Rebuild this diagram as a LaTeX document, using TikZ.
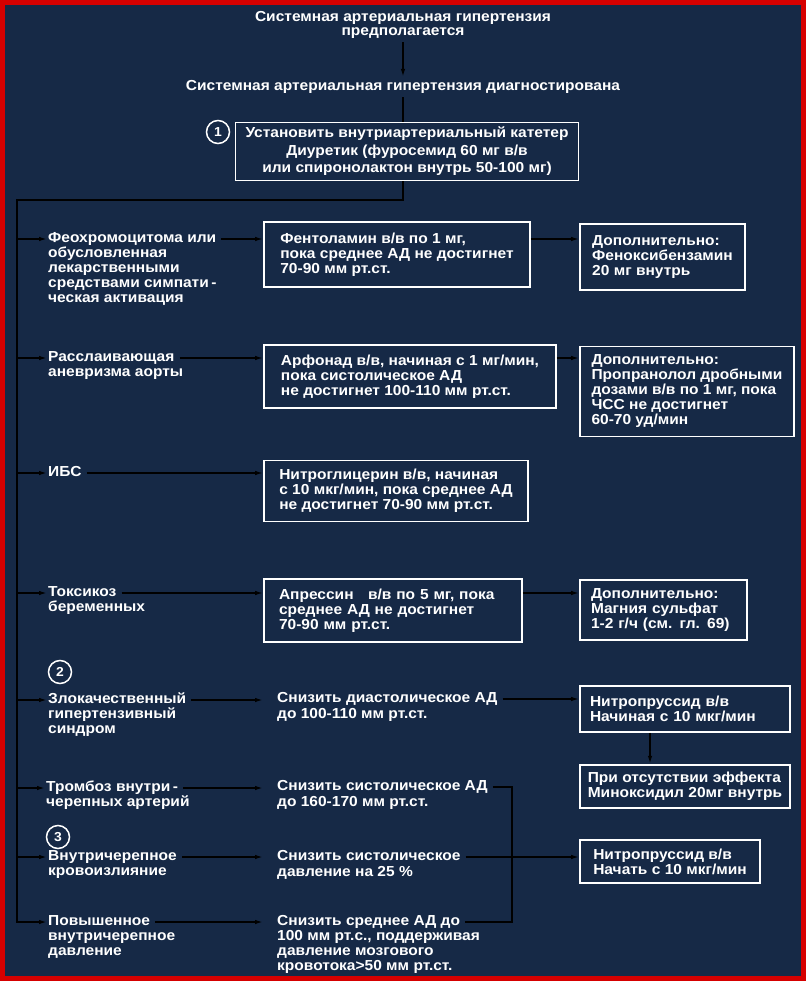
\documentclass[tikz,border=0pt]{standalone}
\usepackage{fontspec}
\setmainfont{Liberation Sans}[FakeStretch=1.07]
\usetikzlibrary{arrows.meta,positioning}
\definecolor{bgnavy}{RGB}{22,41,70}
\definecolor{framered}{RGB}{214,0,0}

\begin{document}
\begin{tikzpicture}[x=1pt, y=-1pt,
    every node/.style={text=white, font=\bfseries\fontsize{14.5}{15}\selectfont},
    box/.style={draw=white, line width=1.7pt, inner xsep=10pt, align=left},
    wbox/.style={box, text width=#1},
    lbl/.style={anchor=west, inner sep=0pt, text height=10.5pt, text depth=3pt},
    more/.style={anchor=base west, inner sep=0pt, align=left},
    arr/.style={line width=1.5pt, -{Latex[length=8pt,width=4.5pt]}},
    num/.style={draw=white, circle, line width=1.5pt, inner sep=0pt, minimum size=23pt, font=\bfseries\fontsize{13}{15}\selectfont}
  ]
    \useasboundingbox (0,0) rectangle (806,981);
    \fill[bgnavy] (0,0) rectangle (806,981);
    \draw[framered, line width=5pt] (2.5,2.5) rectangle (803.5,978.5);

    % top of the scheme
    \node[align=center, font=\bfseries\fontsize{14.5}{14}\selectfont] (susp) at (403,25) {Системная артериальная гипертензия\\предполагается};
    \node (diag) at (403,87) {Системная артериальная гипертензия диагностирована};
    \node[box, align=center, minimum width=342pt, minimum height=58pt, font=\bfseries\fontsize{14.5}{17.5}\selectfont] (cath) at (407,151.5)
      {Установить внутриартериальный катетер\\Диуретик (фуросемид 60 мг в/в\\или спиронолактон внутрь 50-100 мг)};
    \node[num] (n1) at (218,132) {1};
    \coordinate (trk) at (17,200);

    % left column
    \node[lbl] (feo) at (48,239) {Феохромоцитома или};
    \node[more] at ([yshift=-60pt]feo.base west) {обусловленная\\лекарственными\\средствами симпати\,-\\ческая активация};
    \node[lbl] (rassl) at (48,358) {Расслаивающая};
    \node[more] at ([yshift=-15pt]rassl.base west) {аневризма аорты};
    \node[lbl] (ibs) at (48,473) {ИБС};
    \node[lbl] (toks) at (48,593) {Токсикоз};
    \node[more] at ([yshift=-15pt]toks.base west) {беременных};
    \node[num] (n2) at (60,672) {2};
    \node[lbl] (zlok) at (48,700) {Злокачественный};
    \node[more] at ([yshift=-30pt]zlok.base west) {гипертензивный\\синдром};
    \node[lbl] (tromb) at (46,788) {Тромбоз внутри\,-};
    \node[more] at ([yshift=-15pt]tromb.base west) {черепных артерий};
    \node[num] (n3) at (58,837) {3};
    \node[lbl] (hem) at (48,857) {Внутричерепное};
    \node[more] at ([yshift=-15pt]hem.base west) {кровоизлияние};
    \node[lbl] (pov) at (48,922) {Повышенное};
    \node[more] at ([yshift=-30pt]pov.base west) {внутричерепное\\давление};

    % middle column
    \node[box, minimum width=266pt, minimum height=65pt] (fent) at (397,254.5)
      {Фентоламин в/в по 1 мг,\\пока среднее АД не достигнет\\70-90 мм рт.ст.};
    \node[box, minimum width=292pt, minimum height=63pt] (arfo) at (410,376.5)
      {Арфонад в/в, начиная с 1 мг/мин,\\пока систолическое АД\\не достигнет 100-110 мм рт.ст.};
    \node[box, minimum width=264pt, minimum height=61pt] (nitro) at (396,491)
      {Нитроглицерин в/в, начиная\\с 10 мкг/мин, пока среднее АД\\не достигнет 70-90 мм рт.ст.};
    \node[wbox=228pt, inner xsep=15pt, minimum height=63pt] (apres) at (393,610.5)
      {Апрессин\quad в/в по 5 мг, пока\\среднее АД не достигнет\\70-90 мм рт.ст.};
    \node[lbl] (sn1) at (277,699) {Снизить диастолическое АД};
    \node[more] at ([yshift=-16pt]sn1.base west) {до 100-110 мм рт.ст.};
    \node[lbl] (sn2) at (277,787) {Снизить систолическое АД};
    \node[more] at ([yshift=-16pt]sn2.base west) {до 160-170 мм рт.ст.};
    \node[lbl] (sn3) at (277,857) {Снизить систолическое};
    \node[more] at ([yshift=-16pt]sn3.base west) {давление на 25 \%};
    \node[lbl] (sn4) at (277,922) {Снизить среднее АД до};
    \node[more] at ([yshift=-45pt]sn4.base west)
      {100 мм рт.с., поддерживая\\давление мозгового\\кровотока>50 мм рт.ст.};
    \coordinate (jx) at (512,858);

    % right column
    \node[box, minimum width=165pt, minimum height=66pt] (phenox) at (662.5,257)
      {Дополнительно:\\Феноксибензамин\\20 мг внутрь};
    \node[box, minimum width=214pt, minimum height=90pt] (prop) at (687,391.5)
      {Дополнительно:\\Пропранолол дробными\\дозами в/в по 1 мг, пока\\ЧСС не достигнет\\60-70 уд/мин};
    \node[wbox=145pt, inner xsep=11pt, minimum height=60pt] (magn) at (663.5,610)
      {Дополнительно:\\Магния сульфат\\1-2 г/ч (см. гл. 69)};
    \node[wbox=190pt, minimum height=46pt] (nipr1) at (685,709)
      {Нитропруссид в/в\\Начиная с 10 мкг/мин};
    \node[box, inner xsep=5pt, minimum width=210pt, minimum height=43pt, below=31pt of nipr1] (minox)
      {При отсутствии эффекта\\Миноксидил 20мг внутрь};
    \node[box, minimum width=180pt, minimum height=43pt] (nipr2) at (670,861.5)
      {Нитропруссид в/в\\Начать с 10 мкг/мин};

    % connectors
    \draw[arr] (susp) -- (diag);
    \draw[line width=1.5pt] (diag) -- (diag.south |- cath.north);
    \draw[arr] (cath.south -| diag.south) |- (trk) |- ([xshift=-1pt]pov.west);
    \foreach \r in {feo,rassl,ibs,toks,zlok,tromb,hem}
      \draw[arr] (\r.west -| trk) -- ([xshift=-1pt]\r.west);

    \draw[arr] ([xshift=5pt]feo.east) -- (feo.east -| fent.west);
    \draw[arr] ([xshift=5pt]rassl.east) -- (rassl.east -| arfo.west);
    \draw[arr] ([xshift=5pt]ibs.east) -- (ibs.east -| nitro.west);
    \draw[arr] ([xshift=5pt]toks.east) -- (toks.east -| apres.west);
    \draw[arr] ([xshift=5pt]zlok.east) -- ([xshift=-14pt]zlok.east -| sn1.west);
    \draw[arr] ([xshift=5pt]tromb.east) -- ([xshift=-14pt]tromb.east -| sn2.west);
    \draw[arr] ([xshift=5pt]hem.east) -- ([xshift=-14pt]hem.east -| sn3.west);
    \draw[arr] ([xshift=5pt]pov.east) -- ([xshift=-14pt]pov.east -| sn4.west);

    \draw[arr] (feo.east -| fent.east) -- (feo.east -| phenox.west);
    \draw[arr] (rassl.east -| arfo.east) -- (rassl.east -| prop.west);
    \draw[arr] (toks.east -| apres.east) -- (toks.east -| magn.west);
    \draw[arr] ([xshift=5pt]sn1.east) -- (sn1.east -| nipr1.west);
    \draw[arr] ([xshift=-35pt]nipr1.south) -- ([xshift=-35pt]minox.north);
    \draw[line width=1.5pt] ([xshift=5pt]sn2.east) -| (sn4.east -| jx) -- ([xshift=5pt]sn4.east);
    \draw[arr] ([xshift=5pt]sn3.east) -- (sn3.east -| nipr2.west);
  \end{tikzpicture}
\end{document}
